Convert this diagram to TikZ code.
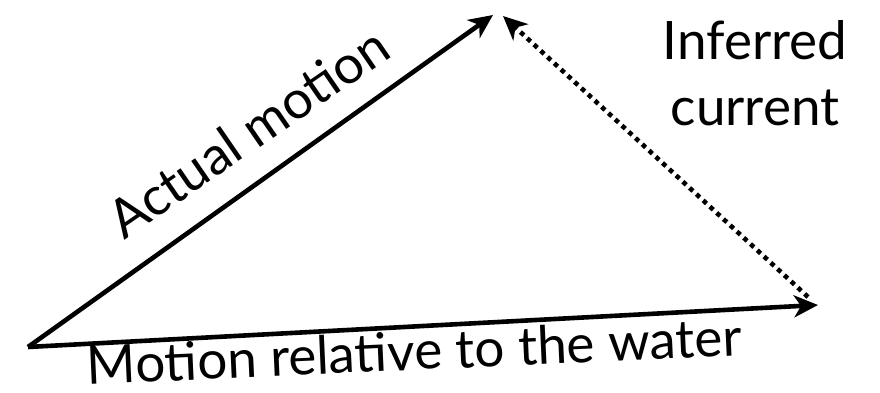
\documentclass[tikz,border=0pt]{standalone}
\usepackage{fontspec}
\setmainfont{Lato}
\usetikzlibrary{arrows.meta}
\begin{document}
\begin{tikzpicture}[x=1pt,y=-1pt,
  vec/.style={line width=4.6pt,-{Stealth[length=24pt,width=22pt,inset=7pt]}},
  dotvec/.style={line width=4.6pt,dash pattern=on 4.6pt off 4.6pt,-{Stealth[length=24pt,width=22pt,inset=7pt]}},
  lbl/.style={font=\fontsize{53}{60}\selectfont,inner sep=0pt,anchor=base}]
\useasboundingbox (0,0) rectangle (880,393);
\coordinate (O) at (28,347);
\coordinate (T) at (493,15);
\coordinate (R) at (818,305);
\coordinate (Rd) at (808,297);
\coordinate (Td) at (503,16);
\draw[vec,line join=round] (O) -- (T);
\draw[vec] (O) -- (R);
\draw[dotvec] (Rd) -- (Td);
\node[lbl,rotate=34.5] (am) at (259,148) {Actual motion};
\node[lbl,rotate=2.6] (mr) at (415,370) {Motion relative to the water};
\node[lbl] (ic1) at (755,60) {Inferred};
\node[lbl] (ic2) at (755,125) {current};
\end{tikzpicture}
\end{document}
